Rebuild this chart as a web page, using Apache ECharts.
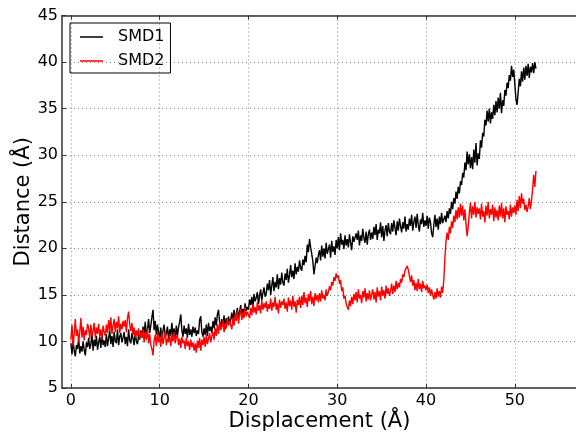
<!DOCTYPE html>
<html>
<head>
<meta charset="utf-8">
<title>SMD distance</title>
<style>
  html, body { margin: 0; padding: 0; background: #fff; }
  #main { width: 576px; height: 436px; }
</style>
</head>
<body>
<div id="main"></div>
<script src="https://cdn.jsdelivr.net/npm/echarts@6/dist/echarts.min.js"></script>
<script>
// displacement sampled every STEP angstrom, starting at 0
var STEP = 0.125;

var seriesNames = ['SMD1', 'SMD2'];

// SMD1 distance, 16 samples per 2 A
var smd1 = [
  9.8, 8.6, 10.1, 9.0, 8.4, 9.6, 9.2, 10.3, 8.7, 9.5, 8.9, 10.0, 9.1, 8.5, 9.9, 9.4,
  10.4, 9.2, 9.7, 10.8, 9.0, 10.2, 9.5, 10.6, 9.1, 9.9, 10.5, 9.3, 10.9, 9.6, 10.1, 9.4,
  10.8, 9.5, 10.3, 11.2, 9.7, 10.6, 9.4, 11.0, 10.1, 9.8, 11.3, 9.6, 10.5, 10.9, 9.9, 10.4,
  11.0, 9.7, 10.5, 9.5, 11.3, 10.1, 9.8, 10.9, 10.3, 9.6, 11.1, 10.0, 9.7, 10.7, 10.2, 11.2,
  10.4, 11.6, 10.8, 12.1, 10.5, 11.3, 12.4, 10.9, 11.7, 12.6, 13.4, 11.2, 12.2, 10.7, 11.8, 11.0,
  10.3, 11.5, 10.0, 11.2, 11.8, 10.4, 10.9, 11.6, 10.1, 11.3, 10.6, 12.0, 10.5, 11.4, 10.2, 11.7,
  10.6, 11.5, 12.1, 12.9, 11.2, 10.5, 11.7, 10.8, 11.4, 10.4, 11.9, 10.7, 11.3, 10.5, 11.6, 10.9,
  11.5, 10.6, 11.2, 10.8, 12.3, 12.7, 11.0, 10.5, 11.4, 10.7, 11.8, 10.6, 12.0, 11.1, 11.6, 10.9,
  12.2, 11.4, 12.6, 11.7, 12.9, 13.4, 12.1, 11.5, 12.4, 11.6, 12.8, 11.3, 12.5, 11.9, 12.7, 12.0,
  12.3, 13.1, 12.1, 13.4, 12.6, 12.9, 13.6, 12.4, 13.2, 13.9, 12.8, 13.5, 13.0, 14.1, 13.3, 13.7,
  13.4, 14.5, 13.9, 14.8, 13.6, 15.1, 14.3, 14.7, 15.3, 14.0, 14.9, 15.6, 14.4, 15.2, 15.8, 14.8,
  15.1, 16.2, 15.5, 16.6, 15.0, 16.0, 16.9, 15.4, 16.4, 15.8, 17.2, 15.6, 16.8, 16.1, 17.4, 16.3,
  16.0, 17.3, 16.6, 17.8, 16.3, 17.1, 18.2, 16.9, 17.6, 16.7, 18.4, 17.2, 18.0, 17.5, 18.7, 17.9,
  17.6, 18.8, 18.2, 19.2, 18.5, 20.4, 19.6, 21.0, 20.1, 19.4, 18.6, 17.2, 18.1, 19.0, 18.4, 19.3,
  19.8, 18.7, 20.3, 19.1, 20.0, 18.9, 20.6, 19.4, 19.2, 20.4, 19.0, 20.8, 19.6, 20.2, 19.3, 20.9,
  20.0, 21.2, 19.8, 21.6, 20.4, 20.9, 19.9, 21.4, 20.3, 21.0, 20.1, 21.5, 20.6, 19.8, 21.3, 20.7,
  20.5, 21.6, 20.9, 21.9, 20.3, 21.4, 20.8, 22.1, 21.1, 20.6, 21.8, 20.4, 21.5, 22.0, 20.9, 21.7,
  21.0, 22.3, 21.4, 22.6, 20.9, 22.0, 21.6, 22.8, 21.2, 22.4, 20.8, 21.9, 22.5, 21.3, 22.7, 21.8,
  21.5, 22.7, 21.8, 23.0, 22.2, 21.4, 22.9, 21.9, 23.2, 22.4, 21.7, 22.8, 22.1, 23.4, 21.8, 22.6,
  22.0, 23.2, 22.4, 23.6, 21.9, 22.8, 23.4, 22.2, 23.7, 22.5, 21.8, 23.1, 22.6, 23.8, 22.3, 23.0,
  22.4, 23.5, 22.1, 23.3, 22.8, 21.6, 21.2, 22.5, 23.6, 22.3, 23.2, 22.0, 23.4, 22.6, 23.8, 22.7,
  22.6, 23.5, 22.8, 24.0, 23.2, 24.3, 23.7, 25.0, 24.2, 25.4, 24.8, 26.1, 25.3, 26.6, 25.9, 27.2,
  26.8, 28.1, 27.6, 29.2, 28.4, 30.4, 29.0, 30.1, 28.6, 29.8, 28.5, 30.6, 29.2, 31.3, 28.9, 30.2,
  29.6, 31.6, 30.8, 32.4, 32.0, 33.8, 33.2, 34.8, 33.6, 35.0, 33.4, 34.6, 33.9, 35.4, 34.3, 35.8,
  34.6, 36.2, 35.0, 36.7, 34.5, 35.9, 35.3, 37.0, 36.4, 37.8, 37.2, 38.6, 38.0, 39.6, 38.4, 39.2,
  37.6, 36.0, 35.4, 36.8, 38.2, 37.4, 39.0, 37.9, 39.4, 38.1, 39.6, 38.5, 39.8, 38.3, 39.5, 38.9,
  39.9, 38.8, 40.0, 39.3
];

// SMD2 distance, same sampling
var smd2 = [
  10.2, 11.8, 9.5, 10.8, 12.4, 10.6, 11.3, 9.9, 11.0, 12.5, 10.4, 11.6, 10.1, 11.2, 10.7, 11.9,
  11.4, 10.3, 11.8, 10.6, 11.1, 12.0, 10.4, 11.5, 10.8, 11.9, 10.5, 11.3, 10.2, 11.7, 11.0, 10.6,
  11.8, 10.9, 12.3, 11.1, 12.6, 10.8, 11.7, 12.4, 11.0, 12.1, 11.4, 12.7, 10.9, 11.9, 11.3, 12.2,
  11.6, 12.3, 11.0, 12.5, 13.2, 11.8, 11.1, 12.0, 10.7, 11.5, 10.4, 11.2, 10.6, 11.4, 10.3, 11.0,
  10.4, 11.3, 9.9, 11.0, 10.2, 11.4, 9.8, 10.8, 9.6, 9.2, 8.5, 10.1, 10.7, 9.5, 11.0, 9.9,
  10.5, 9.4, 10.9, 9.7, 10.4, 11.1, 9.6, 10.3, 9.9, 10.8, 9.5, 10.6, 10.0, 11.0, 9.8, 10.4,
  10.7, 9.6, 10.3, 9.3, 10.5, 9.8, 10.1, 9.2, 10.4, 9.5, 10.0, 9.1, 10.2, 9.4, 9.9, 9.0,
  9.8, 8.8, 10.1, 9.3, 10.4, 9.0, 10.2, 9.6, 10.5, 9.4, 10.7, 9.7, 10.3, 10.9, 9.9, 10.6,
  11.0, 10.2, 11.5, 10.6, 11.8, 10.8, 12.1, 11.2, 11.6, 12.3, 11.0, 12.0, 11.4, 12.5, 11.7, 12.2,
  12.0, 11.3, 12.6, 11.7, 12.9, 12.2, 13.3, 11.9, 12.8, 13.5, 12.3, 13.1, 12.5, 13.7, 12.7, 13.2,
  13.0, 12.5, 13.6, 12.8, 14.0, 13.1, 13.7, 12.9, 14.2, 13.3, 13.9, 13.0, 14.4, 13.4, 14.1, 13.6,
  14.3, 13.2, 14.0, 13.5, 14.6, 13.3, 14.2, 13.7, 14.8, 13.4, 14.1, 13.0, 14.5, 13.6, 14.3, 13.9,
  14.6, 13.5, 14.2, 13.2, 14.7, 13.8, 14.4, 13.4, 14.9, 13.7, 14.3, 13.1, 14.5, 13.9, 14.8, 13.6,
  14.9, 13.9, 15.3, 14.1, 14.7, 13.7, 15.1, 14.3, 15.4, 14.0, 14.8, 13.8, 15.2, 14.4, 15.0, 14.2,
  15.2, 14.3, 15.5, 14.6, 15.0, 14.4, 15.6, 14.9, 15.3, 15.9, 15.5, 16.4, 16.0, 16.9, 16.5, 17.3,
  16.8, 17.1, 16.2, 16.6, 15.4, 15.8, 14.6, 14.9, 14.1, 13.7, 13.4, 14.4, 13.8, 14.8, 14.0, 15.1,
  14.4, 15.3, 14.2, 15.6, 14.6, 15.0, 14.1, 15.4, 14.7, 15.7, 14.3, 15.2, 14.5, 15.5, 14.4, 15.1,
  15.6, 14.5, 15.3, 14.2, 15.8, 14.8, 15.4, 14.4, 15.9, 14.9, 15.5, 14.6, 16.0, 15.1, 15.7, 14.9,
  15.4, 16.2, 15.1, 16.0, 15.3, 16.5, 15.6, 16.3, 15.8, 16.7, 16.3, 17.2, 16.9, 17.6, 17.4, 18.1,
  17.7, 17.0, 16.4, 17.1, 16.0, 16.6, 15.5, 16.3, 15.4, 16.7, 15.6, 16.2, 15.3, 16.5, 15.7, 16.0,
  15.5, 16.1, 15.2, 15.8, 14.9, 15.6, 15.0, 14.5, 15.3, 14.6, 15.7, 14.8, 15.4, 14.7, 15.9, 15.2,
  16.6, 19.0, 20.8, 21.7, 20.9, 22.3, 21.6, 22.9, 22.2, 23.5, 22.8, 24.1, 23.1, 24.4, 23.3, 24.8,
  23.5, 24.6, 23.0, 24.2, 22.6, 21.3, 22.4, 23.8, 24.9, 23.2, 24.5, 23.6, 25.0, 23.3, 24.4, 23.7,
  24.3, 23.1, 24.8, 23.4, 24.0, 22.8, 24.6, 23.5, 25.0, 23.2, 24.2, 23.6, 24.7, 22.9, 24.4, 23.3,
  24.1, 23.0, 24.6, 23.4, 24.9, 23.2, 24.3, 22.8, 24.5, 23.6, 24.0, 23.1, 24.7, 23.4, 24.4, 23.8,
  24.6, 23.6, 25.2, 24.0, 25.6, 24.3, 25.9, 24.8, 25.3, 24.1, 24.7, 23.9, 24.5, 25.4, 24.2, 25.1,
  26.4, 27.9, 26.6, 28.3
];

var xTicks = [0, 10, 20, 30, 40, 50];

function pairs(arr) {
  return arr.map(function (v, i) { return [i * STEP, v]; });
}

var font = 'DejaVu Sans';
var frame = { color: '#333', width: 1.5 };
var gridLine = { show: true, lineStyle: { color: '#888', width: 1, type: [1, 3] } };

var myChart = echarts.init(document.getElementById('main'));

var option = {
  animation: false,
  backgroundColor: '#fff',
  grid: { left: 62, top: 15.5, right: -1, bottom: 48, outerBoundsMode: 'none' },
  legend: {
    data: seriesNames,
    orient: 'vertical',
    left: 70, top: 23,
    padding: [6, 6, 4, 10],
    itemGap: 8,
    itemWidth: 23, itemHeight: 1.5,
    icon: 'rect',
    borderColor: '#000', borderWidth: 1,
    textStyle: { fontFamily: font, fontSize: 16, color: '#000', lineHeight: 16, padding: [0, 0, 0, 10] }
  },
  xAxis: [{
    type: 'value',
    min: -1, max: 57,
    name: 'Displacement (Å)',
    nameLocation: 'middle',
    nameGap: 23,
    nameMoveOverlap: false,
    nameTextStyle: { fontFamily: font, fontSize: 21, color: '#000' },
    axisLine: { show: true, onZero: false, lineStyle: frame },
    axisTick: { show: true, inside: true, length: 4, customValues: xTicks, lineStyle: { color: '#333' } },
    axisLabel: { customValues: xTicks, fontFamily: font, fontSize: 16, color: '#000', margin: 5 },
    splitLine: gridLine
  }, {
    type: 'value',
    position: 'top',
    min: -1, max: 57,
    axisLine: { show: true, onZero: false, lineStyle: frame },
    axisTick: { show: true, inside: true, length: 4, customValues: xTicks, lineStyle: { color: '#333' } },
    axisLabel: { show: false },
    splitLine: { show: false }
  }],
  yAxis: {
    type: 'value',
    min: 5, max: 45, interval: 5,
    name: 'Distance (Å)',
    nameLocation: 'middle',
    nameGap: 28,
    nameMoveOverlap: false,
    nameTextStyle: { fontFamily: font, fontSize: 21, color: '#000' },
    axisLine: { show: true, onZero: false, lineStyle: frame },
    axisTick: { show: true, inside: true, length: 4, lineStyle: { color: '#333' } },
    axisLabel: { fontFamily: font, fontSize: 16, color: '#000', margin: 4 },
    splitLine: gridLine
  },
  series: [{
    name: seriesNames[0],
    type: 'line',
    data: pairs(smd1),
    showSymbol: false,
    symbol: 'none',
    color: '#000',
    lineStyle: { color: '#000', width: 1.4 }
  }, {
    name: seriesNames[1],
    type: 'line',
    data: pairs(smd2),
    showSymbol: false,
    symbol: 'none',
    color: '#ff0000',
    lineStyle: { color: '#ff0000', width: 1.4 }
  }]
};

myChart.setOption(option);
</script>
</body>
</html>
